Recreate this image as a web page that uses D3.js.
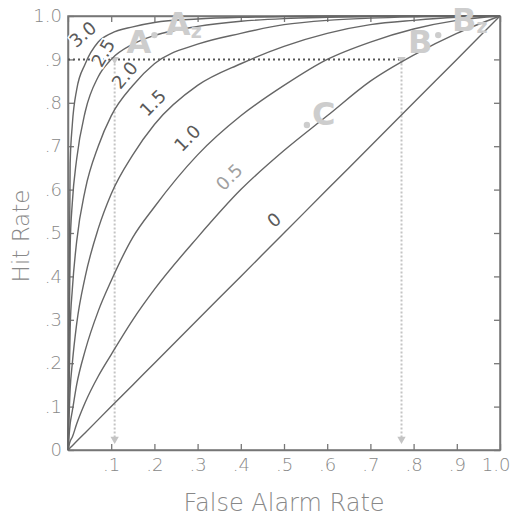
<!DOCTYPE html>
<html>
<head>
<meta charset="utf-8">
<script src="https://cdn.jsdelivr.net/npm/d3@7"></script>
<style>
  body { margin: 0; background: #fff; }
  svg { display: block; font-family: "DejaVu Sans", sans-serif; font-weight: 300; }
</style>
</head>
<body>
<div id="roc"></div>
<script>
var falseAlarm = [0, 0.005, 0.01, 0.02, 0.04, 0.07, 0.1, 0.15, 0.2, 0.3, 0.4, 0.5, 0.6, 0.7, 0.8, 0.9, 1];

// hit rates, one list per d'
var hit00 = [0, 0.005, 0.01, 0.02, 0.04, 0.07, 0.1, 0.15, 0.2, 0.3, 0.4, 0.5, 0.6, 0.7, 0.8, 0.9, 1];
var hit05 = [0, 0.02, 0.03, 0.06, 0.11, 0.17, 0.22, 0.30, 0.37, 0.49, 0.60, 0.69, 0.77, 0.85, 0.91, 0.96, 1];
var hit10 = [0, 0.06, 0.09, 0.15, 0.23, 0.32, 0.39, 0.49, 0.56, 0.68, 0.77, 0.84, 0.90, 0.94, 0.97, 0.99, 1];
var hit15 = [0, 0.14, 0.20, 0.29, 0.40, 0.51, 0.59, 0.68, 0.75, 0.84, 0.89, 0.93, 0.96, 0.98, 0.99, 0.997, 1];
var hit20 = [0, 0.28, 0.37, 0.48, 0.60, 0.70, 0.77, 0.84, 0.89, 0.935, 0.96, 0.98, 0.99, 0.995, 0.998, 1, 1];
var hit25 = [0, 0.47, 0.57, 0.67, 0.78, 0.86, 0.90, 0.935, 0.955, 0.976, 0.988, 0.994, 0.997, 0.999, 1, 1, 1];
var hit30 = [0, 0.66, 0.75, 0.83, 0.89, 0.94, 0.96, 0.975, 0.985, 0.993, 0.997, 0.999, 1, 1, 1, 1, 1];

var dPrimeLabels = ['0', '0.5', '1.0', '1.5', '2.0', '2.5', '3.0'];
var hitSeries = [hit00, hit05, hit10, hit15, hit20, hit25, hit30];

// where the d' labels sit, in (false alarm, hit) units
var labelFA = [0.477, 0.373, 0.276, 0.196, 0.131, 0.081, 0.034];
var labelHit = [0.53, 0.629, 0.719, 0.80, 0.864, 0.915, 0.958];
var labelAngle = [-40, -45, -45, -45, -50, -60, -40];

var tickValues = [0, 0.1, 0.2, 0.3, 0.4, 0.5, 0.6, 0.7, 0.8, 0.9, 1];

// the criterion points
var pointA = [0.108, 0.9];
var pointB = [0.772, 0.9];
var pointC = [0.553, 0.749];

var width = 511, height = 517;
var x = d3.scaleLinear().domain([0, 1]).range([68, 500]);
var y = d3.scaleLinear().domain([0, 1]).range([450, 16]);

var svg = d3.select('#roc').append('svg')
    .attr('width', width)
    .attr('height', height);

function tickText(v) {
    if (v === 0) { return '0'; }
    if (v === 1) { return '1.0'; }
    return '.' + Math.round(v * 10);
}

// axes: ticks point inward on all four sides
var xAxis = svg.append('g')
    .attr('transform', 'translate(0,' + y(0) + ')')
    .call(d3.axisBottom(x).tickValues(tickValues).tickSizeInner(-6).tickSizeOuter(0).tickPadding(8)
        .tickFormat(function (v) { return v === 0 ? '' : tickText(v); }));
svg.append('g')
    .attr('transform', 'translate(' + x(0) + ',0)')
    .call(d3.axisLeft(y).tickValues(tickValues).tickSizeInner(-6).tickSizeOuter(0).tickPadding(6)
        .tickFormat(tickText));
svg.append('g')
    .attr('transform', 'translate(0,' + y(1) + ')')
    .call(d3.axisTop(x).tickValues(tickValues).tickSizeInner(-6).tickSizeOuter(0).tickFormat(''));
svg.append('g')
    .attr('transform', 'translate(' + x(1) + ',0)')
    .call(d3.axisRight(y).tickValues(tickValues).tickSizeInner(-6).tickSizeOuter(0).tickFormat(''));

svg.selectAll('.domain').attr('stroke', '#777').attr('stroke-width', 1.5);
svg.selectAll('.tick line').attr('stroke', '#777').attr('stroke-width', 1.3);
svg.selectAll('.tick text')
    .attr('fill', '#888')
    .style('font-family', '"DejaVu Sans", sans-serif')
    .style('font-size', '18px');

// the last x label sits against the page edge
xAxis.selectAll('.tick text')
    .filter(function (v) { return v === 1; })
    .attr('text-anchor', 'end')
    .attr('x', 10);

// frame
svg.append('rect')
    .attr('x', x(0)).attr('y', y(1))
    .attr('width', x(1) - x(0)).attr('height', y(0) - y(1))
    .attr('fill', 'none').attr('stroke', '#777').attr('stroke-width', 1.5);

// axis titles
svg.append('text')
    .attr('x', 284)
    .attr('y', 511)
    .attr('text-anchor', 'middle')
    .attr('fill', '#888')
    .style('font-size', '24px')
    .text('False Alarm Rate');

svg.append('text')
    .attr('transform', 'translate(29,236) rotate(-90)')
    .attr('text-anchor', 'middle')
    .attr('fill', '#888')
    .style('font-size', '23px')
    .text('Hit Rate');

// dotted guide lines for the 0.9 hit rate criterion
var guides = svg.append('g');
guides.append('line')
    .attr('x1', x(0)).attr('x2', x(pointB[0]))
    .attr('y1', y(0.9)).attr('y2', y(0.9))
    .attr('stroke', '#555').attr('stroke-width', 2)
    .attr('stroke-dasharray', '2,3');
[pointA, pointB].forEach(function (p) {
    guides.append('line')
        .attr('x1', x(p[0])).attr('x2', x(p[0]))
        .attr('y1', y(p[1])).attr('y2', y(0.03))
        .attr('stroke', '#c4c4c4').attr('stroke-width', 2)
        .attr('stroke-dasharray', '2,2');
    guides.append('path')
        .attr('d', d3.symbol(d3.symbolTriangle, 30)())
        .attr('transform', 'translate(' + x(p[0]) + ',' + y(0.025) + ') rotate(180)')
        .attr('fill', '#c4c4c4');
    guides.append('path')
        .attr('d', d3.symbol(d3.symbolTriangle, 30)())
        .attr('transform', 'translate(' + x(p[0]) + ',' + y(p[1]) + ') rotate(180)')
        .attr('fill', '#c8c8c8');
});

// ROC curves
var line = d3.line()
    .x(function (d) { return x(d[0]); })
    .y(function (d) { return y(d[1]); })
    .curve(d3.curveMonotoneX);

svg.append('g')
    .selectAll('path')
    .data(hitSeries)
    .enter()
    .append('path')
    .attr('d', function (hits) {
        return line(falseAlarm.map(function (f, i) { return [f, hits[i]]; }));
    })
    .attr('fill', 'none')
    .attr('stroke', '#666')
    .attr('stroke-width', 1.4);

// d' labels
svg.append('g')
    .selectAll('text')
    .data(dPrimeLabels)
    .enter()
    .append('text')
    .attr('transform', function (d, i) {
        return 'translate(' + x(labelFA[i]) + ',' + y(labelHit[i]) + ') rotate(' + labelAngle[i] + ')';
    })
    .attr('text-anchor', 'middle')
    .attr('dy', '0.36em')
    .attr('fill', function (d) { return d === '0.5' ? '#a0a0a0' : '#5a5a5a'; })
    .attr('stroke', '#fff')
    .attr('stroke-width', 3)
    .attr('paint-order', 'stroke')
    .style('font-weight', 'normal')
    .style('font-size', '18px')
    .text(function (d) { return d; });

// big grey letters for the criterion points
var letters = svg.append('g')
    .attr('fill', '#cdcdcd')
    .style('font-size', '32px')
    .style('font-weight', 'bold');

function bigLetter(fa, hr, txt, sub) {
    var t = letters.append('text')
        .attr('x', x(fa)).attr('y', y(hr))
        .attr('text-anchor', 'middle')
        .attr('dy', '0.36em')
        .text(txt);
    if (sub) {
        t.append('tspan')
            .attr('dy', '0.12em')
            .style('font-size', '19px')
            .text(sub);
    }
}

bigLetter(0.164, 0.942, 'A');
bigLetter(0.268, 0.982, 'A', 'z');
bigLetter(0.815, 0.942, 'B');
bigLetter(0.93, 0.993, 'B', 'z');
bigLetter(0.592, 0.776, 'C');

letters.selectAll('circle')
    .data([[0.2, 0.956], [0.857, 0.956], pointC])
    .enter()
    .append('circle')
    .attr('cx', function (d) { return x(d[0]); })
    .attr('cy', function (d) { return y(d[1]); })
    .attr('r', 3.2);
</script>
</body>
</html>
